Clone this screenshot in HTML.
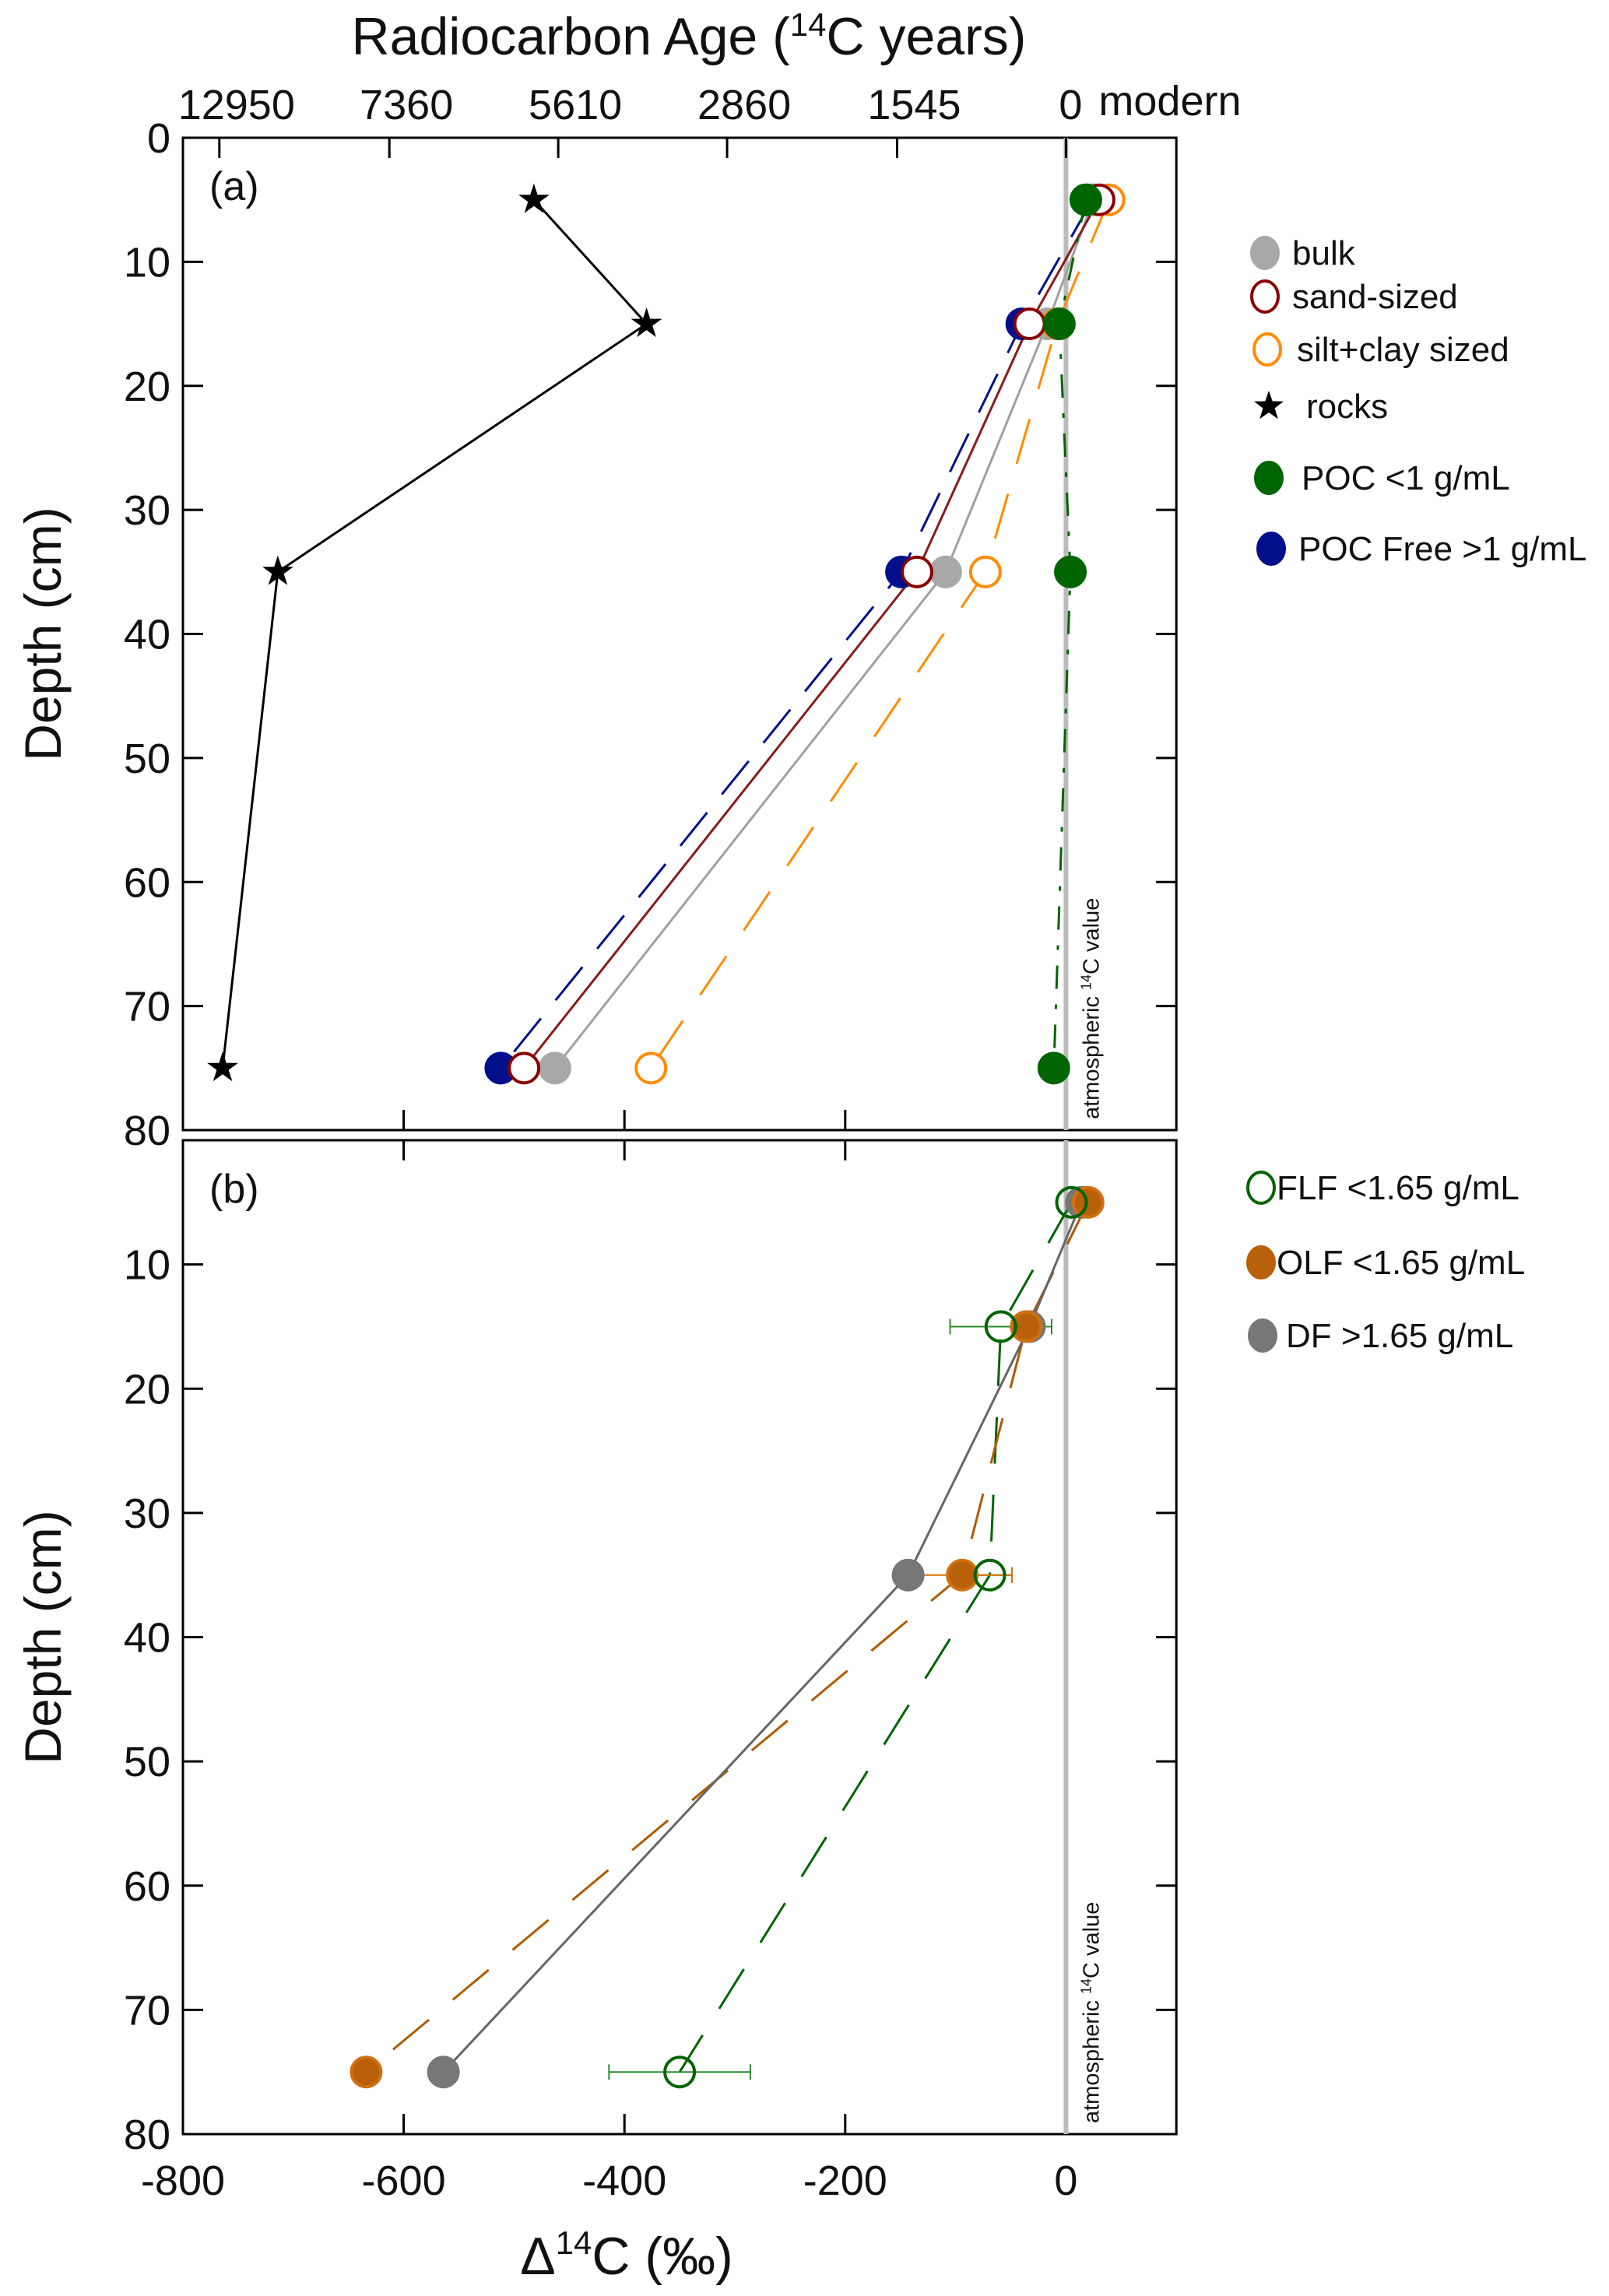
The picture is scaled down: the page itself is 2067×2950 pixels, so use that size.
<!DOCTYPE html>
<html><head><meta charset="utf-8"><style>
html,body{margin:0;padding:0;background:#fff;}
svg{display:block;font-family:"Liberation Sans",sans-serif;}
</style></head><body>
<svg id="chart" width="2067" height="2950" viewBox="0 0 2067 2950" xmlns="http://www.w3.org/2000/svg">
<g id="axes"></g><g id="marks"></g><g id="legend"></g>
</svg>
<script>
// ---- data ----
const depths = [5, 15, 35, 75];
const depthTicks = [0, 10, 20, 30, 40, 50, 60, 70, 80];
const xTicks = [-800, -600, -400, -200, 0];
const ageTickLabels = ["12950", "7360", "5610", "2860", "1545", "0"];
const ageTickValues = [-767, -613, -460, -307, -153, 0];
// panel a
const rocks = [-482, -380, -714, -764];
const bulk = [25, -17, -109, -463];
const sandSized = [30, -33, -135, -491];
const siltClay = [39, -8, -73, -376];
const pocLight = [18, -6, 4, -11];
const pocFree = [24, -40, -149, -512];
// panel b
const flf = [5, -59, -69, -350];
const flfErr = [0, 46, 20, 64];
const olf = [20, -36, -94, -634];
const olfErr = [0, 0, 45, 0];
const df = [14, -33, -143, -564];

// ---- scales ----
const X0 = 235, XS = 1.418;
function xs(v){ return X0 + (v + 800) * XS; }
const panels = { a: {top:177, bottom:1452}, b: {top:1465, bottom:2742} };
function ys(p, d){ const P = panels[p]; return P.top + d / 80 * (P.bottom - P.top); }
const L = xs(-800), R = xs(100);
const NS = "http://www.w3.org/2000/svg";
function mk(parent, tag, attrs, text){
  const e = document.createElementNS(NS, tag);
  for (const k in attrs) e.setAttribute(k, attrs[k]);
  if (text !== undefined) e.textContent = text;
  document.getElementById(parent).appendChild(e);
  return e;
}

// ---- axes ----
["a","b"].forEach(p => {
  const P = panels[p];
  const fr = mk("axes", "rect", {x:L, y:P.top, width:R-L, height:P.bottom-P.top, fill:"none", stroke:"#000", "stroke-width":3});
  
  
  depthTicks.forEach(d => {
    const y = ys(p, d);
    mk("axes", "line", {x1:L, x2:L+26, y1:y, y2:y, stroke:"#000", "stroke-width":3});
    mk("axes", "line", {x1:R-26, x2:R, y1:y, y2:y, stroke:"#000", "stroke-width":3});
    if (p === "b" && d === 0) return;
    const t = mk("axes", "text", {x:L-16, y:y+19, "text-anchor":"end", "font-size":54, fill:"#111"}, String(d));
    
    
  });
  xTicks.forEach(v => {
    const x = xs(v);
    mk("axes", "line", {x1:x, x2:x, y1:P.bottom-26, y2:P.bottom, stroke:"#000", "stroke-width":3});
    if (p === "b") mk("axes", "line", {x1:x, x2:x, y1:P.top, y2:P.top+26, stroke:"#000", "stroke-width":3});
  });
  const al = mk("axes", "line", {x1:xs(0), x2:xs(0), y1:P.top, y2:P.bottom, stroke:"#bbb", "stroke-width":6});
  
  
  const at = mk("axes", "text", {x:0, y:0, "font-size":29, fill:"#111", transform:"translate(" + (xs(0)+42) + "," + (P.bottom-14) + ") rotate(-90)"});
  at.innerHTML = 'atmospheric <tspan font-size="18" dy="-10">14</tspan><tspan dy="10">C value</tspan>';
  
  
  const yt = mk("axes", "text", {x:0, y:0, "font-size":66, fill:"#111", "text-anchor":"middle", transform:"translate(78," + ((P.top+P.bottom)/2) + ") rotate(-90)"}, "Depth (cm)");
  
  
  const pl = mk("axes", "text", {x:L+34, y:P.top+80, "font-size":52, fill:"#111"}, "(" + p + ")");
  
  
});
ageTickValues.forEach((v, i) => {
  const x = xs(v);
  mk("axes", "line", {x1:x, x2:x, y1:panels.a.top, y2:panels.a.top+26, stroke:"#000", "stroke-width":3});
  const t = mk("axes", "text", {x:x + (i<5?22:6), y:153, "text-anchor":"middle", "font-size":54, fill:"#111"}, ageTickLabels[i]);
  
  
});
const mo = mk("axes", "text", {x:xs(0)+42, y:148, "font-size":54, fill:"#111"}, "modern");


const tt = mk("axes", "text", {x:885, y:70, "text-anchor":"middle", "font-size":68, fill:"#111"});
tt.innerHTML = 'Radiocarbon Age (<tspan font-size="42" dy="-24">14</tspan><tspan dy="24">C years)</tspan>';


xTicks.forEach(v => {
  const t = mk("axes", "text", {x:xs(v), y:2820, "text-anchor":"middle", "font-size":54, fill:"#111"}, String(v));
  
  
});
const xt = mk("axes", "text", {x:805, y:2922, "text-anchor":"middle", "font-size":68, fill:"#111"});
xt.innerHTML = 'Δ<tspan font-size="42" dy="-26">14</tspan><tspan dy="26">C (‰)</tspan>';



// ---- series ----
function line(p, vals, color, dash, name, w){
  const pts = vals.map((v,i) => xs(v).toFixed(1) + "," + ys(p, depths[i]).toFixed(1)).join(" ");
  const pl = mk("marks", "polyline", {points:pts, fill:"none", stroke:color, "stroke-width":w||3, "stroke-dasharray":dash||"none"});
  
  
}
function circles(p, vals, fill, stroke, name){
  vals.forEach((v,i) => {
    const c = mk("marks", "circle", {cx:xs(v), cy:ys(p, depths[i]), r:19, fill:fill, stroke:stroke, "stroke-width":4});
    
    
  });
}
function stars(p, vals, name){
  vals.forEach((v,i) => {
    const cx = xs(v), cy = ys(p, depths[i]);
    const pts = [];
    for (let k=0;k<10;k++){ const r = k%2?8:21; const a = -Math.PI/2 + k*Math.PI/5; pts.push((cx+r*Math.cos(a)).toFixed(1)+","+(cy+r*Math.sin(a)).toFixed(1)); }
    const s = mk("marks", "polygon", {points:pts.join(" "), fill:"#000"});
    
    
  });
}
function errbars(p, vals, errs, color, name){
  vals.forEach((v,i) => {
    if (!errs[i]) return;
    const y = ys(p, depths[i]), x1 = xs(v-errs[i]), x2 = xs(v+errs[i]);
    const g = mk("marks", "path", {d:"M"+x1+","+y+"H"+x2+"M"+x1+","+(y-10)+"V"+(y+10)+"M"+x2+","+(y-10)+"V"+(y+10), stroke:color, "stroke-width":2, fill:"none"});
    
    
  });
}
line("a", rocks, "#000", null, "rocks");
line("a", pocFree, "#00108a", "55,30", "poc-free");
line("a", siltClay, "#ff8c00", "60,40", "silt-clay");
line("a", bulk, "#a0a0a0", null, "bulk");
line("a", sandSized, "#8b1a1a", null, "sand-sized");
line("a", pocLight, "#006400", "30,20,6,20", "poc-light");
stars("a", rocks, "rocks");
circles("a", pocFree, "#00108a", "#00108a", "poc-free");
circles("a", bulk, "#a8a8a8", "#a8a8a8", "bulk");
circles("a", siltClay, "#fff", "#ff8c00", "silt-clay");
circles("a", sandSized, "#fff", "#8b0000", "sand-sized");
circles("a", pocLight, "#006400", "#006400", "poc-light");
line("b", flf, "#006400", "60,40", "flf");
line("b", olf, "#b05a00", "60,40", "olf");
line("b", df, "#666", null, "df");
errbars("b", flf, flfErr, "#2e8b2e", "flf");
errbars("b", olf, olfErr, "#e07000", "olf");
circles("b", df, "#777", "#777", "df");
circles("b", olf, "#b8600a", "#d07010", "olf");
circles("b", flf, "none", "#006400", "flf");

// ---- legends ----
function legend(y, x, tx, kind, fill, stroke, label, name){
  let m;
  if (kind === "star") {
    const pts = [];
    for (let k=0;k<10;k++){ const r = k%2?8:20; const a = -Math.PI/2 + k*Math.PI/5; pts.push((x+r*Math.cos(a)).toFixed(1)+","+(y+r*Math.sin(a)).toFixed(1)); }
    m = mk("legend", "polygon", {points:pts.join(" "), fill:"#000"});
  } else {
    m = mk("legend", "ellipse", {cx:x, cy:y, rx:17, ry:20, fill:fill, stroke:stroke, "stroke-width":4});
  }
  
  
  const t = mk("legend", "text", {x:tx, y:y+15, "font-size":44, fill:"#111"}, label);
  
  
}
legend(325, 1625, 1660, "c", "#a8a8a8", "#a8a8a8", "bulk", "bulk");
legend(381, 1625, 1660, "c", "#fff", "#8b0000", "sand-sized", "sand-sized");
legend(449, 1628, 1666, "c", "#fff", "#ff8c00", "silt+clay sized", "silt-clay");
legend(522, 1630, 1678, "star", "", "", "rocks", "rocks");
legend(614, 1630, 1672, "c", "#006400", "#006400", "POC <1 g/mL", "poc-light");
legend(705, 1633, 1668, "c", "#00108a", "#00108a", "POC Free >1 g/mL", "poc-free");
legend(1526, 1620, 1640, "c", "none", "#006400", "FLF <1.65 g/mL", "flf");
legend(1622, 1620, 1640, "c", "#b8600a", "#b8600a", "OLF <1.65 g/mL", "olf");
legend(1716, 1622, 1652, "c", "#777", "#777", "DF >1.65 g/mL", "df");
</script>
</body></html>
